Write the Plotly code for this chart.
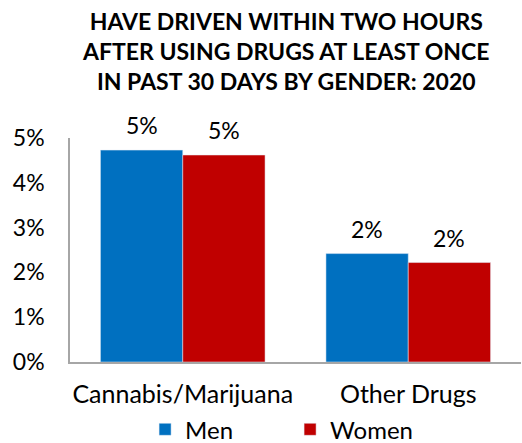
import plotly.graph_objects as go

categories = ["Cannabis/Marijuana", "Other Drugs"]
men = [0.0473, 0.0242]
women = [0.0462, 0.0222]
y_ticks = [0, 0.01, 0.02, 0.03, 0.04, 0.05]
y_tick_labels = ["0%", "1%", "2%", "3%", "4%", "5%"]
title_lines = [
    "HAVE DRIVEN WITHIN TWO HOURS",
    "AFTER USING DRUGS AT LEAST ONCE",
    "IN PAST 30 DAYS BY GENDER: 2020",
]

BLUE = "#0070C0"
RED = "#C00000"
FONT = "Lato"

fig = go.Figure()
fig.add_trace(go.Bar(name="Men", x=categories, y=men, marker_color=BLUE))
fig.add_trace(go.Bar(name="Women", x=categories, y=women, marker_color=RED))

# value labels above each bar, rounded to whole percent
for series, shift in ((men, -41), (women, 41)):
    for cat, val in zip(categories, series):
        fig.add_annotation(
            x=cat, y=val, text=f"{val:.0%}", showarrow=False,
            xshift=shift, yshift=25, yanchor="middle",
            font=dict(family=FONT, size=23, color="#000000"),
        )

# three-line bold heading above the plot
fig.add_annotation(
    xref="paper", yref="paper", x=0.479, y=1.388,
    xanchor="center", yanchor="middle", showarrow=False,
    text="<br>".join(title_lines),
    font=dict(family=FONT, size=23, color="#000000", weight="bold"),
)

fig.update_layout(
    width=522, height=443,
    margin=dict(l=70, r=1, t=138, b=81, autoexpand=False),
    paper_bgcolor="white", plot_bgcolor="white",
    barmode="group", bargap=0.27, bargroupgap=0,
    font=dict(family=FONT, size=23, color="#000000"),
    legend=dict(
        orientation="h", xref="paper", x=0.488, xanchor="center",
        yref="container", y=0.03, yanchor="middle",
        font=dict(family=FONT, size=24), itemwidth=30,
        entrywidth=100, entrywidthmode="pixels",
        bgcolor="rgba(0,0,0,0)",
    ),
    showlegend=True,
)
fig.update_xaxes(
    range=[-0.5, 1.5], showline=True, linecolor="#A6A6A6", linewidth=1.5,
    ticks="", ticklabelstandoff=9, automargin=False,
    tickfont=dict(family=FONT, size=25),
)
fig.update_yaxes(
    range=[0, 0.05], tickvals=y_ticks, ticktext=y_tick_labels,
    showline=True, linecolor="#A6A6A6", linewidth=1.5, showgrid=False,
    zeroline=False, ticks="", ticklabelstandoff=19, automargin=False,
    tickfont=dict(family=FONT, size=23),
)

fig.write_html("out.html")
